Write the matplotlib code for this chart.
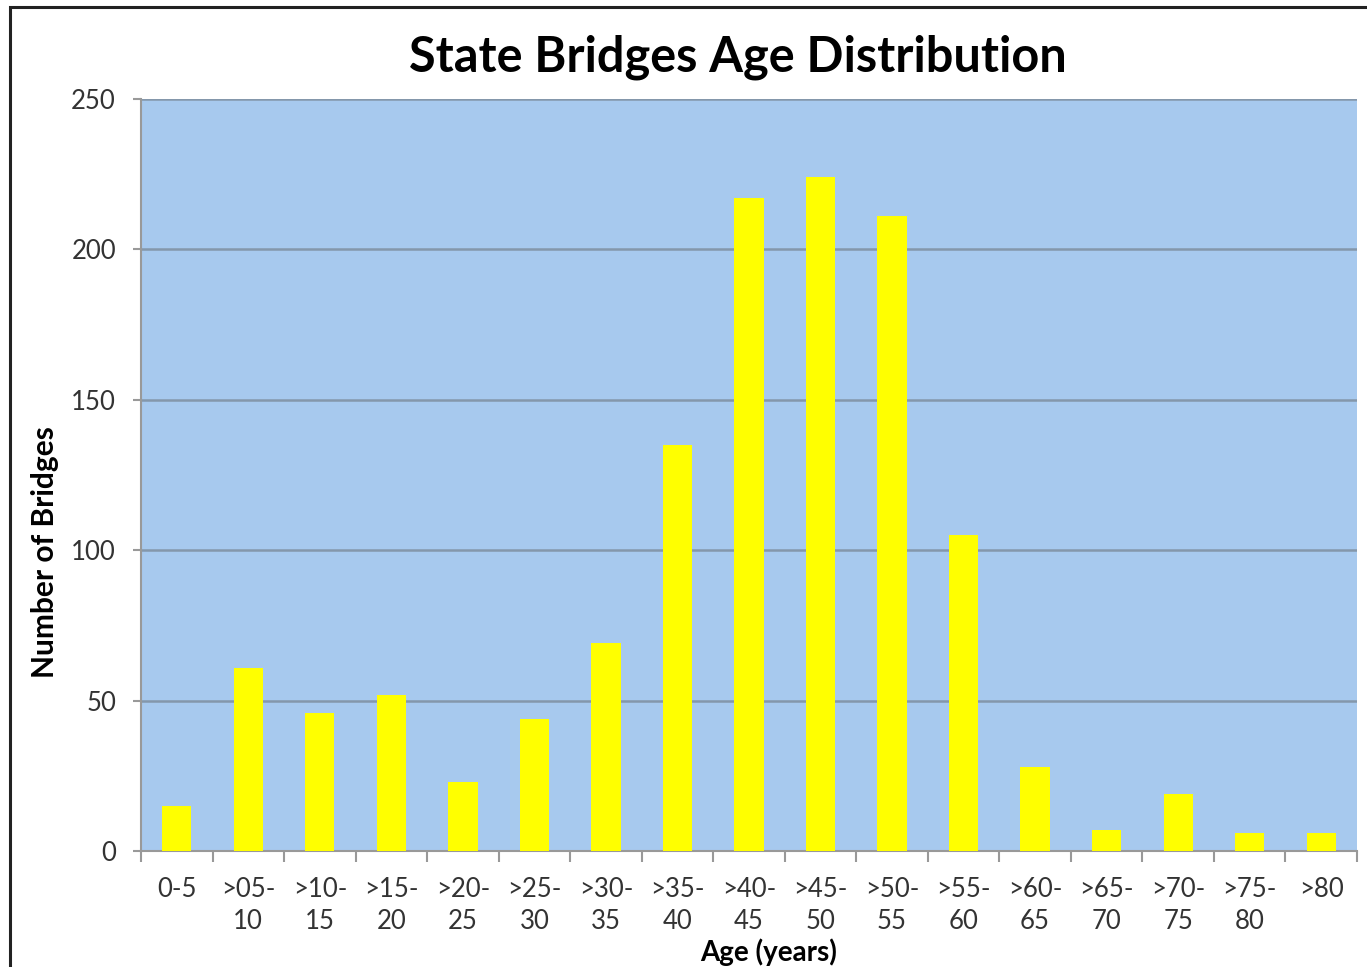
import matplotlib.pyplot as plt
import matplotlib.patches as patches
import numpy as np

# bridge counts per age bracket
categories = ['0-5', '>05-\n10', '>10-\n15', '>15-\n20', '>20-\n25', '>25-\n30',
              '>30-\n35', '>35-\n40', '>40-\n45', '>45-\n50', '>50-\n55', '>55-\n60',
              '>60-\n65', '>65-\n70', '>70-\n75', '>75-\n80', '>80']
counts = [15, 61, 46, 52, 23, 44, 69, 135, 217, 224, 211, 105, 28, 7, 19, 6, 6]

plt.rcParams['font.family'] = ['Lato', 'DejaVu Sans']

fig = plt.figure(figsize=(13.67, 9.67), dpi=100)
ax = fig.add_axes([141/1367, 1 - 851/967, 1216/1367, 752/967])

# outer frame around the chart
fig.patches.append(patches.Rectangle((10/1367, -0.01), 1.5, 1 - 7/967 + 0.01,
                                     transform=fig.transFigure, fill=False,
                                     edgecolor='#222222', linewidth=2.2))

x = np.arange(len(categories))
ax.set_facecolor('#A7C9EE')
ax.bar(x, counts, width=0.41, color='#FFFF00', zorder=3)

ax.set_xlim(-0.5, len(categories) - 0.5)
ax.set_ylim(0, 250)
ax.set_yticks([0, 50, 100, 150, 200, 250])
ax.grid(axis='y', color='#8497AB', linewidth=1.8, zorder=1)

ax.set_xticks(x)
ax.set_xticklabels(categories, fontsize=18.5, color='#333333', linespacing=1.35)
ax.set_xticks(np.arange(len(categories) + 1) - 0.5, minor=True)
ax.tick_params(axis='x', which='major', length=0, pad=19)
ax.tick_params(axis='x', which='minor', length=8, color='#999999', width=1.5)
ax.tick_params(axis='y', labelsize=18.5, labelcolor='#333333', length=6,
               color='#999999', width=1.5, pad=12)

for s in ['top', 'right']:
    ax.spines[s].set_visible(False)
ax.spines['left'].set_color('#999999')
ax.spines['bottom'].set_color('#999999')
ax.spines['left'].set_linewidth(1.5)
ax.spines['bottom'].set_linewidth(1.5)

ax.set_xlabel('Age (years)', fontsize=20, fontweight='bold')
ax.xaxis.set_label_coords((769 - 141) / 1216, -(938 - 851) / 752)
ax.set_ylabel('Number of Bridges', fontsize=21.5, fontweight='bold')
ax.yaxis.set_label_coords(-(141 - 59) / 1216, (851 - 552) / 752)
fig.text(738/1367, 1 - 57/967, 'State Bridges Age Distribution', fontsize=35,
         fontweight='bold', ha='center', va='center')

fig.savefig('out.png', dpi=100)
